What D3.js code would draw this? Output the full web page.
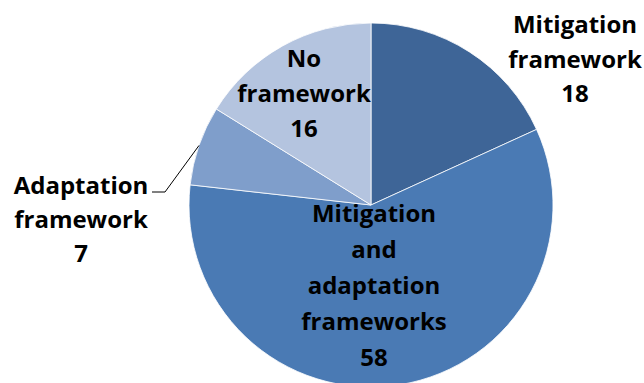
<!DOCTYPE html>
<html><head><meta charset="utf-8">
<script src="https://cdn.jsdelivr.net/npm/d3@7"></script>
<style>html,body{margin:0;padding:0;background:#fff;overflow:hidden}</style>
</head><body>
<svg id="chart" width="644" height="383"></svg>
<script>
const categories = ["Mitigation framework", "Mitigation and adaptation frameworks", "Adaptation framework", "No framework"];
const values = [18, 58, 7, 16];
const labelLines = [["Mitigation","framework","18"],["Mitigation","and","adaptation","frameworks","58"],["Adaptation","framework","7"],["No","framework","16"]];
const colors = ["#3E6597", "#4A7AB4", "#7F9ECB", "#B4C4DF"];

const svg = d3.select("#chart");
const cx = 371, cy = 205, r = 182;
const g = svg.append("g").attr("transform", `translate(${cx},${cy})`);
const pie = d3.pie().sort(null).value(d => d)(values);
const arc = d3.arc().innerRadius(0).outerRadius(r);
g.selectAll("path").data(pie).join("path")
  .attr("d", arc).attr("fill", (d,i) => colors[i])
  .attr("stroke", "#fff").attr("stroke-width", 0.8);

// label layout (absolute block centre x and first baseline), line height
const layout = [
  {x: 575, y: 33, lh: 34.5},
  {x: 374, y: 222, lh: 36},
  {x: 81, y: 194, lh: 34},
  {x: 304, y: 67, lh: 35}
];
layout.forEach((L, i) => {
  const t = svg.append("text").attr("text-anchor","middle")
    .attr("font-family","'Open Sans', sans-serif").attr("font-weight",700)
    .attr("font-size", 24).attr("fill","#000");
  labelLines[i].forEach((s, k) => {
    t.append("tspan").attr("x", L.x).attr("y", L.y + k*L.lh).text(s);
  });
});

// leader line for Adaptation framework
const a = pie[2];
const mid = (a.startAngle + a.endAngle) / 2;
const ex = cx + r*Math.sin(mid), ey = cy - r*Math.cos(mid);
svg.append("path").attr("d", `M152,192 L165,192 L${ex},${ey}`)
  .attr("fill","none").attr("stroke","#000").attr("stroke-width",1);
</script>
</body></html>
